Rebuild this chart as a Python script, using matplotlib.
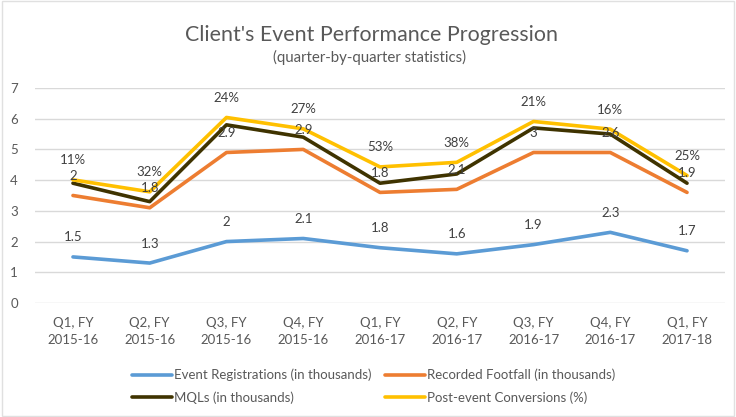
import numpy as np
import matplotlib
matplotlib.use('Agg')
import matplotlib.pyplot as plt

# quarters on the x axis
quarters = ['Q1, FY\n2015-16', 'Q2, FY\n2015-16', 'Q3, FY\n2015-16', 'Q4, FY\n2015-16',
            'Q1, FY\n2016-17', 'Q2, FY\n2016-17', 'Q3, FY\n2016-17', 'Q4, FY\n2016-17',
            'Q1, FY\n2017-18']

# series values (the chart is a stacked line chart)
registrations = [1.5, 1.3, 2.0, 2.1, 1.8, 1.6, 1.9, 2.3, 1.7]
footfall = [2.0, 1.8, 2.9, 2.9, 1.8, 2.1, 3.0, 2.6, 1.9]
mqls = [0.4, 0.2, 0.9, 0.4, 0.3, 0.5, 0.8, 0.6, 0.3]
conversions = [0.11, 0.32, 0.24, 0.27, 0.53, 0.38, 0.21, 0.16, 0.25]

series_names = ['Event Registrations (in thousands)', 'Recorded Footfall (in thousands)',
                'MQLs (in thousands)', 'Post-event Conversions (%)']
colors = ['#5B9BD5', '#ED7D31', '#3F3300', '#FFC000']

plt.rcParams['font.family'] = ['Lato', 'DejaVu Sans']
grey = '#595959'

fig = plt.figure(figsize=(7.36, 4.17), dpi=100)
ax = fig.add_axes([0.047, 0.2734, 0.9386, 0.5156])

x = np.arange(len(quarters))
stacked = np.cumsum([registrations, footfall, mqls, conversions], axis=0)

lines = []
for values, name, color in zip(stacked, series_names, colors):
    ln, = ax.plot(x, values, color=color, linewidth=2.6, label=name, solid_capstyle='round', zorder=3)
    lines.append(ln)

# data labels sit above their own series
label_sets = [
    (stacked[0], ['{:g}'.format(v) for v in registrations]),
    (stacked[1], ['{:g}'.format(v) for v in footfall]),
    (stacked[3], ['{:.0f}%'.format(v * 100) for v in conversions]),
]
for ys, texts in label_sets:
    for xi, yi, t in zip(x, ys, texts):
        ax.annotate(t, (xi, yi), xytext=(0, 14), textcoords='offset points',
                    ha='center', va='center', fontsize=9.5, color='#404040', zorder=4)

ax.set_xlim(-0.5, len(quarters) - 0.5)
ax.set_ylim(0, 7)
ax.set_yticks(range(0, 8))
ax.set_xticks(x)
ax.set_xticklabels(quarters, linespacing=1.5)
ax.tick_params(axis='both', length=0, labelsize=9.5, labelcolor=grey)
ax.tick_params(axis='y', pad=12)
ax.tick_params(axis='x', pad=10)
ax.grid(axis='y', color='#D9D9D9', linewidth=1)
ax.set_axisbelow(True)
for s in ax.spines.values():
    s.set_visible(False)

fig.text(0.505, 1 - 35 / 417, "Client's Event Performance Progression",
         ha='center', va='center', fontsize=15.4, color=grey)
fig.text(0.502, 1 - 57 / 417, '(quarter-by-quarter statistics)',
         ha='center', va='center', fontsize=10.8, color=grey)

# row-wise legend order: reg, footfall / mqls, conversions
order = [0, 2, 1, 3]
fig.legend([lines[i] for i in order], [series_names[i] for i in order],
           loc='upper center', bbox_to_anchor=(0.508, 1 - 362 / 417), ncol=2,
           frameon=False, fontsize=9.5, handlelength=3, handletextpad=0.2,
           columnspacing=1.0, labelspacing=0.75, borderpad=0, labelcolor=grey)

fig.patches.append(plt.Rectangle((0.003, 0.003), 0.994, 0.994, transform=fig.transFigure,
                                 fill=False, edgecolor='#E0E0E0', linewidth=1))

fig.savefig('out.png', dpi=100)
